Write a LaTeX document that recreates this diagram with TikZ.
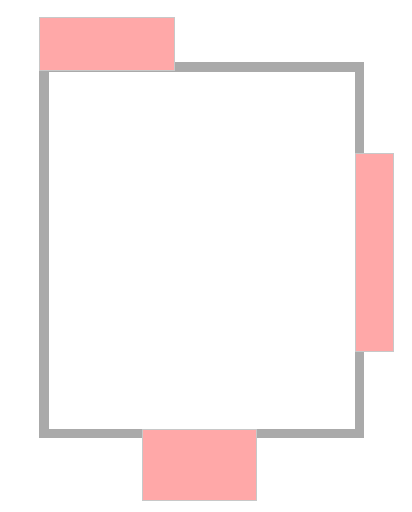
\documentclass[tikz,border=0pt]{standalone}
\usepackage{tikz}

\definecolor{wallcolor}{RGB}{170,170,170}
\definecolor{itemcolor}{RGB}{255,168,168}
\definecolor{edgecolor}{RGB}{200,200,200}

\begin{document}
\begin{tikzpicture}[x=1pt, y=1pt, item/.style = {draw=edgecolor, line width=0.8pt, fill=itemcolor, rectangle, inner sep=0pt}]
		\useasboundingbox (0,0) rectangle (412,512);

		% room walls
		\draw[wallcolor, line width=9.5pt] (44.2,78.4) rectangle (359.5,445.2);

		\node[item, minimum width=135.4pt, minimum height=53.4pt] (Top) at (107,468) {};
		\node[item, minimum width=38.3pt, minimum height=198.4pt] (Right) at (374.2,259.5) {};
		\node[item, minimum width=114.7pt, minimum height=71.4pt] (Bottom) at (199.3,47) {};
	\end{tikzpicture}
\end{document}
